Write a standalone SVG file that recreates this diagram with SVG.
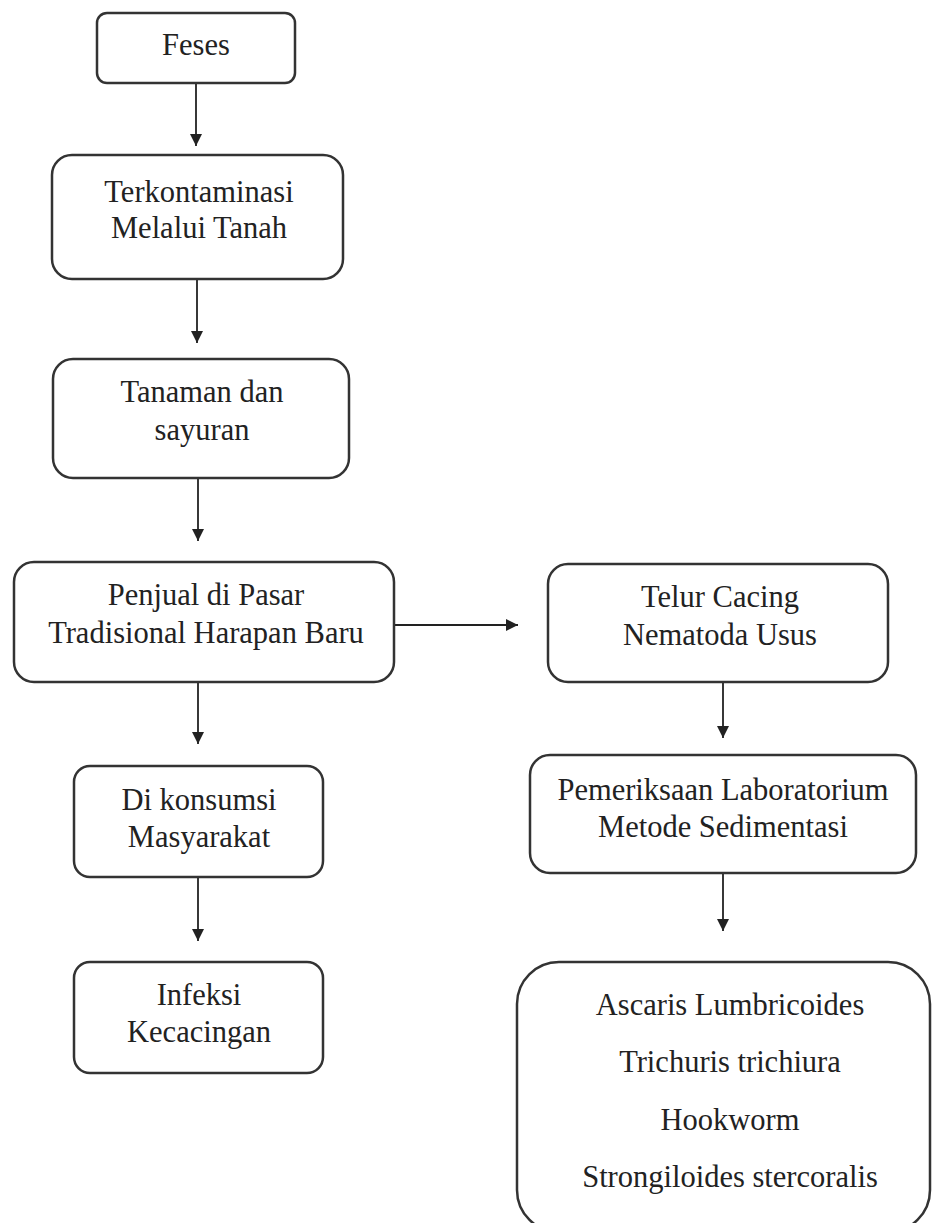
<svg xmlns="http://www.w3.org/2000/svg" width="932" height="1223" viewBox="0 0 932 1223">
<style>
.box{fill:#fff;stroke:#333;stroke-width:2.5}
.t{font-family:"Liberation Serif","Times New Roman",serif;font-size:30.5px;fill:#222;text-anchor:middle}
.c{stroke:#222;stroke-width:1.8;fill:none}
</style>
<defs>
<marker id="ah" viewBox="0 0 10 10" refX="10" refY="5" markerWidth="12" markerHeight="12" markerUnits="userSpaceOnUse" orient="auto">
<path d="M0,0 L10,5 L0,10 Z" fill="#222"/>
</marker>
</defs>
<rect width="932" height="1223" fill="#fff"/>
<g id="connectors">
<line class="c" x1="196" y1="83" x2="196" y2="146" marker-end="url(#ah)"/>
<line class="c" x1="197" y1="279" x2="197" y2="343" marker-end="url(#ah)"/>
<line class="c" x1="198" y1="478" x2="198" y2="541" marker-end="url(#ah)"/>
<line class="c" x1="394" y1="625" x2="518" y2="625" marker-end="url(#ah)"/>
<line class="c" x1="198" y1="682" x2="198" y2="744" marker-end="url(#ah)"/>
<line class="c" x1="198" y1="877" x2="198" y2="941" marker-end="url(#ah)"/>
<line class="c" x1="723" y1="682" x2="723" y2="738" marker-end="url(#ah)"/>
<line class="c" x1="723" y1="873" x2="723" y2="931" marker-end="url(#ah)"/>
</g>
<g id="n-feses">
<rect class="box" x="97" y="13" width="198" height="70" rx="10"/>
<text class="t" x="196" y="55">Feses</text>
</g>
<g id="n-terkontaminasi">
<rect class="box" x="52" y="155" width="291" height="124" rx="20"/>
<text class="t" x="199" y="202">Terkontaminasi</text>
<text class="t" x="199" y="238">Melalui Tanah</text>
</g>
<g id="n-tanaman">
<rect class="box" x="53" y="359" width="296" height="119" rx="20"/>
<text class="t" x="202" y="402">Tanaman dan</text>
<text class="t" x="202" y="440">sayuran</text>
</g>
<g id="n-penjual">
<rect class="box" x="14" y="562" width="380" height="120" rx="20"/>
<text class="t" x="206" y="605">Penjual di Pasar</text>
<text class="t" x="206" y="643">Tradisional Harapan Baru</text>
</g>
<g id="n-telur">
<rect class="box" x="548" y="564" width="340" height="118" rx="20"/>
<text class="t" x="720" y="607">Telur Cacing</text>
<text class="t" x="720" y="645">Nematoda Usus</text>
</g>
<g id="n-konsumsi">
<rect class="box" x="74" y="766" width="249" height="111" rx="16"/>
<text class="t" x="199" y="810">Di konsumsi</text>
<text class="t" x="199" y="847">Masyarakat</text>
</g>
<g id="n-infeksi">
<rect class="box" x="74" y="962" width="249" height="111" rx="16"/>
<text class="t" x="199" y="1005">Infeksi</text>
<text class="t" x="199" y="1042">Kecacingan</text>
</g>
<g id="n-pemeriksaan">
<rect class="box" x="530" y="755" width="386" height="118" rx="20"/>
<text class="t" x="723" y="800">Pemeriksaan Laboratorium</text>
<text class="t" x="723" y="837">Metode Sedimentasi</text>
</g>
<g id="n-hasil">
<rect class="box" x="517" y="962" width="413" height="270" rx="42"/>
<text class="t" x="730" y="1015">Ascaris Lumbricoides</text>
<text class="t" x="730" y="1072">Trichuris trichiura</text>
<text class="t" x="730" y="1130">Hookworm</text>
<text class="t" x="730" y="1187">Strongiloides stercoralis</text>
</g>
</svg>
